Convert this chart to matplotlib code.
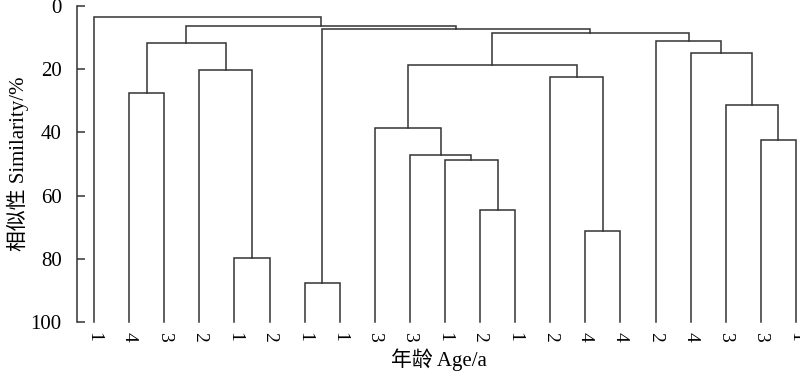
import matplotlib
matplotlib.use("Agg")
import matplotlib.pyplot as plt

plt.rcParams["font.family"] = ["Liberation Serif", "Noto Sans CJK SC"]

# leaf labels (age class), left to right
leaf_labels = ["1", "4", "3", "2", "1", "2", "1", "1", "3", "3", "1",
               "2", "1", "2", "4", "4", "2", "4", "3", "3", "1"]

# merges: node ids 0..20 are leaves, merge k creates node 21+k
merge_left = [6, 4, 14, 11, 10, 9, 19, 8, 18, 1, 13, 3, 28, 17, 30, 16, 33, 21, 35, 0]
merge_right = [7, 5, 15, 12, 24, 25, 20, 26, 27, 2, 23, 22, 31, 29, 32, 34, 36, 37, 38, 39]
merge_sim = [87.6, 79.7, 71.3, 64.4, 48.8, 47.1, 42.3, 38.7, 31.3, 27.4,
             22.5, 20.2, 18.8, 14.95, 11.6, 11.05, 8.4, 7.2, 6.3, 3.4]

LINE = "#333333"

fig = plt.figure(figsize=(8.0, 3.77), dpi=100)
ax = fig.add_axes([77 / 800, 55 / 377, 723 / 800, 316 / 377])

n = len(leaf_labels)
pos_x = {i: float(i) for i in range(n)}
pos_y = {i: 100.0 for i in range(n)}
for k, (a, b, h) in enumerate(zip(merge_left, merge_right, merge_sim)):
    xa, xb = pos_x[a], pos_x[b]
    ax.plot([xa, xa, xb, xb], [pos_y[a], h, h, pos_y[b]],
            color=LINE, lw=1.1, solid_joinstyle="miter", clip_on=False)
    pos_x[n + k] = (xa + xb) / 2
    pos_y[n + k] = h

ax.set_xlim(-17 / 35.1, 20 + 4 / 35.1)
ax.set_ylim(100, 0)
ax.set_yticks([0, 20, 40, 60, 80, 100])
ax.set_xticks(range(n))
ax.set_xticklabels(leaf_labels, rotation=-90, fontsize=14)
ax.tick_params(axis="x", length=0, pad=7)
ax.tick_params(axis="y", direction="in", length=6, width=1.1, color=LINE,
               labelsize=15, pad=11)
for s in ("top", "right", "bottom"):
    ax.spines[s].set_visible(False)
ax.spines["left"].set_color(LINE)
ax.spines["left"].set_linewidth(1.1)

ax.set_ylabel("相似性 Similarity/%", fontsize=15)
ax.yaxis.set_label_coords(-0.066, 0.5)
ax.set_xlabel("年龄 Age/a", fontsize=15, labelpad=5)

fig.savefig("out.png", dpi=100)
